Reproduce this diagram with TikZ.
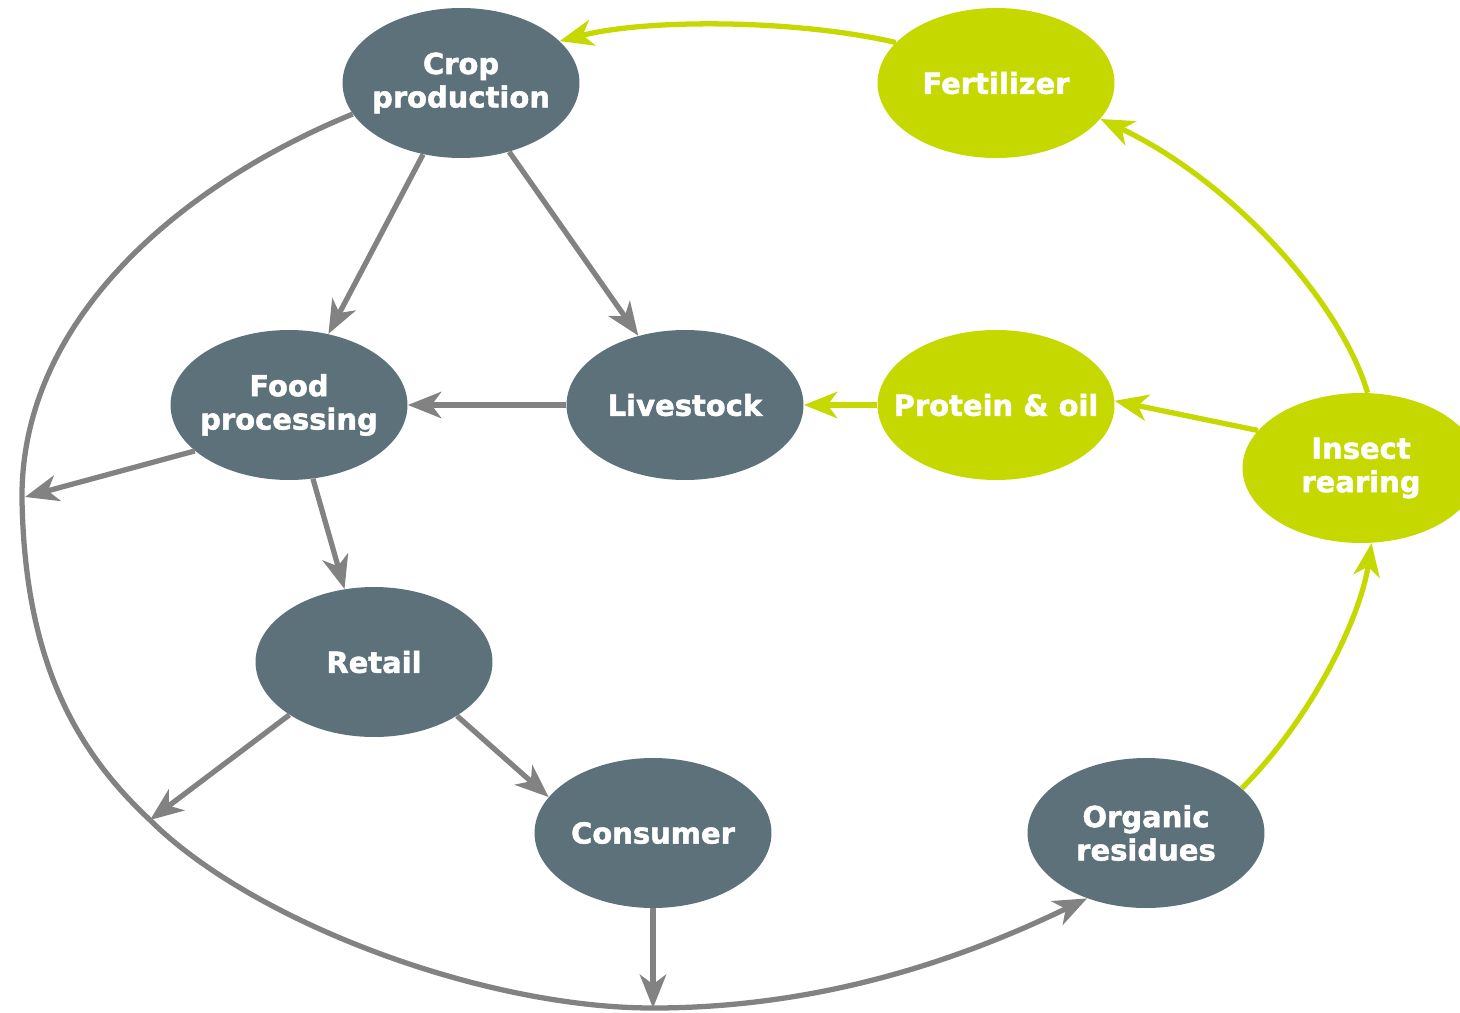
\documentclass[tikz,border=0pt]{standalone}
\usepackage{fontspec}
\setmainfont{DejaVu Sans}[BoldFeatures={FakeBold=1.6}]
\usetikzlibrary{shapes.geometric,arrows.meta}
\definecolor{slate}{HTML}{5D717B}
\definecolor{lime}{HTML}{C5D800}
\definecolor{flow}{HTML}{828282}

\begin{document}
\begin{tikzpicture}[x=0.02cm,y=-0.02cm,
	every node/.style={ellipse,minimum width=4.74cm,minimum height=3cm,inner xsep=-0.6cm,inner ysep=0pt,align=center,text=white,font=\bfseries\fontsize{16.5}{19}\selectfont},
	stage/.style={fill=slate},
	product/.style={fill=lime},
	grayflow/.style={draw=flow,line width=3pt,-{Stealth[length=19pt,width=15pt,inset=5.5pt]}},
	greenflow/.style={draw=lime,line width=3pt,-{Stealth[length=19pt,width=15pt,inset=5.5pt]}}]
	\useasboundingbox (0,0) rectangle (1460,1013);

	%food chain nodes
	\node[stage] (crop) at (461,83) {Crop\\production};
	\node[stage] (food) at (289,405) {Food\\processing};
	\node[stage] (stock) at (685,405) {Livestock};
	\node[stage] (retail) at (374,662) {Retail};
	\node[stage] (consumer) at (653,833) {Consumer};
	\node[stage] (organic) at (1146,833) {Organic\\residues};

	%insect nodes
	\node[product] (fert) at (996,83) {Fertilizer};
	\node[product] (protein) at (996,405) {Protein \& oil};
	\node[product] (insect) at (1361,468) {Insect\\rearing};

	%waste points on the big loop
	\coordinate (wasteA) at (25,497);
	\coordinate (wasteB) at (150,820);
	\coordinate (wasteC) at (653,1008);

	%gray edges
	\draw[grayflow] (crop.242) -- (food.61);
	\draw[grayflow] (crop.305) -- (stock.124);
	\draw[grayflow] (stock.west) -- (food.east);
	\draw[grayflow] (food.206) -- (wasteA);
	\draw[grayflow] (food.288) -- (retail.112);
	\draw[grayflow] (retail.327) -- (consumer.161);
	\draw[grayflow] (retail.212) -- (wasteB);
	\draw[grayflow] (consumer.south) -- (wasteC);
	\draw[grayflow] (crop.196) .. controls (180,185) and (20,320) .. (22,500)
		.. controls (25,660) and (75,750) .. (wasteB)
		.. controls (250,920) and (480,1008) .. (wasteC)
		.. controls (820,1008) and (960,960) .. (organic.228);

	%green edges
	\draw[greenflow] (organic.25) .. controls (1310,720) and (1360,620) .. (insect.278);
	\draw[greenflow] (insect.85) .. controls (1340,300) and (1230,180) .. (fert.341);
	\draw[greenflow] (insect.160) -- (protein.2);
	\draw[greenflow] (protein.west) -- (stock.east);
	\draw[greenflow] (fert.158) .. controls (800,20) and (650,18) .. (crop.23);
\end{tikzpicture}
\end{document}
